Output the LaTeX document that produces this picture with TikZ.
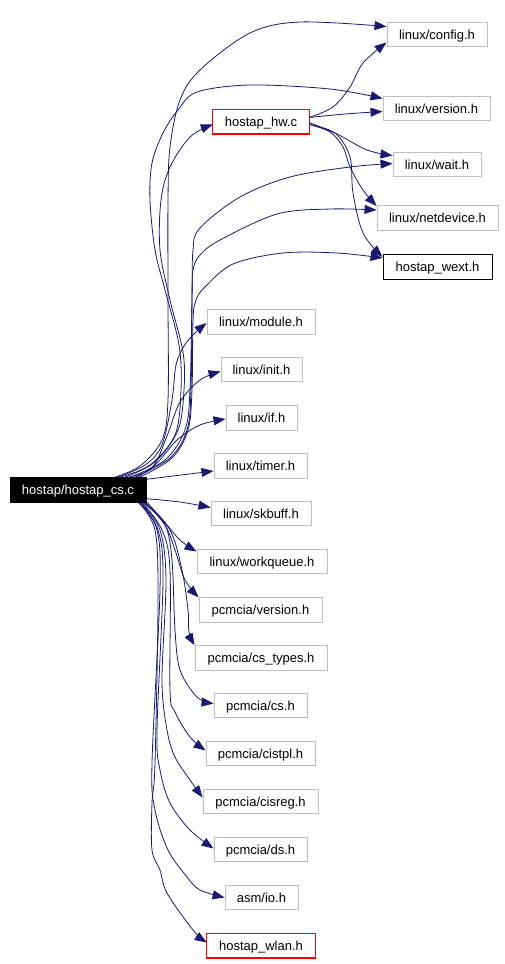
\documentclass[tikz,border=0pt]{standalone}
\usepackage{fontspec}
\setmainfont{Liberation Sans}
\usetikzlibrary{arrows.meta}
\definecolor{edgeblue}{RGB}{25,25,112}
\definecolor{boxgray}{RGB}{191,191,191}
\definecolor{borderred}{RGB}{255,0,0}
\tikzset{
  txt/.style={minimum height=24.5pt, inner sep=0pt, text height=9.3pt, text depth=0pt, font=\fontsize{13}{15}\selectfont},
  box/.style={txt, draw=boxgray, line width=0.9pt},
  redbox/.style={txt},
  redframe/.style={draw=borderred, line width=1.1pt},
  blackbox/.style={box, draw=black},
  rootbox/.style={box, draw=black, fill=black, text=white},
  e/.style={draw=edgeblue, line width=0.8pt, -{Triangle[length=12pt,width=9pt]}},
  sm/.style={smooth, tension=0.55},
}
\begin{document}
\begin{tikzpicture}[x=1pt,y=-1pt]
\useasboundingbox (0,0) rectangle (505,964);
% nodes
\node[rootbox, minimum width=136pt] (root) at (78,490) {hostap/hostap\_cs.c};
\node[box, minimum width=100pt] (cfg) at (437,34.5) {linux/config.h};
\node[box, minimum width=107pt] (ver) at (436.5,108.5) {linux/version.h};
\node[redbox, minimum width=96pt] (hw) at (261,121.5) {hostap\_hw.c};
\draw[redframe] (hw.north west) rectangle (hw.south east);
\node[box, minimum width=88pt] (wait) at (437,164.5) {linux/wait.h};
\node[box, minimum width=121pt] (netd) at (437.5,218) {linux/netdevice.h};
\node[blackbox, minimum width=109pt] (wext) at (437.5,267) {hostap\_wext.h};
\node[box, minimum width=108pt] (module) at (261,322) {linux/module.h};
\node[box, minimum width=81pt] (init) at (261.5,369.5) {linux/init.h};
\node[box, minimum width=71pt] (if) at (261.5,418) {linux/if.h};
\node[box, minimum width=93pt] (timer) at (260.5,466) {linux/timer.h};
\node[box, minimum width=100pt] (skb) at (261,513.5) {linux/skbuff.h};
\node[box, minimum width=130pt] (wq) at (262,561.5) {linux/workqueue.h};
\node[box, minimum width=123pt] (pver) at (260.5,610) {pcmcia/version.h};
\node[box, minimum width=132pt] (cst) at (261,658) {pcmcia/cs\_types.h};
\node[box, minimum width=93pt] (cs) at (260.5,705.5) {pcmcia/cs.h};
\node[box, minimum width=109pt] (cistpl) at (260.5,753.5) {pcmcia/cistpl.h};
\node[box, minimum width=115pt] (cisreg) at (260.5,801.5) {pcmcia/cisreg.h};
\node[box, minimum width=93pt] (ds) at (260.5,849.5) {pcmcia/ds.h};
\node[box, minimum width=73pt] (io) at (261.5,897.5) {asm/io.h};
\node[redbox, minimum width=108pt] (wlan) at (261,945.5) {hostap\_wlan.h};
\draw[redframe] (wlan.north west) rectangle (wlan.south east);

% root -> upper targets
\draw[e] plot[sm] coordinates {([xshift=105pt]root.north west) (140,466) (162,440) (168,400) (168,300) (168,200) (170,147) (180,100) (200,70) (250,33) (300,22) ([yshift=8pt]cfg.west)};
\draw[e] plot[sm] coordinates {([xshift=110pt]root.north west) (150,465) (175,435) (181,390) (179,345) (165,290) (155,250) (150,200) (152,163) (163,133) (178,110) (197,92) (250,85) (330,89) ([yshift=10pt]ver.west)};
\draw[e] plot[sm] coordinates {([xshift=115pt]root.north west) (155,462) (178,430) (184,390) (183,352) (170,300) (160,250) (161,200) (170,167) (190,137) ([yshift=-3pt]hw.west)};
\draw[e] plot[sm] coordinates {([xshift=120pt]root.north west) (165,460) (185,430) (190,390) (192,300) (193,250) (200,228) (240,197) (290,177) (350,167) ([yshift=1pt]wait.west)};
\draw[e] plot[sm] coordinates {([xshift=125pt]root.north west) (170,458) (187,430) (191,390) (192,300) (193,270) (200,255) (220,240) (277,214) (330,209) ([yshift=8pt]netd.west)};
\draw[e] plot[sm] coordinates {([xshift=130pt]root.north west) (172,458) (188,430) (192,390) (193,320) (196,300) (205,287) (233,264) (283,253) (337,253) ([yshift=9pt]wext.west)};
\draw[e] plot[sm] coordinates {([xshift=108pt]root.north west) (145,465) (162,445) (172,400) (176,365) (184,346) (195,333) ([yshift=-1pt]module.west)};
\draw[e] plot[sm] coordinates {([xshift=118pt]root.north west) (152,468) (167,436) (180,402) (200,380) ([yshift=-2pt]init.west)};
\draw[e] plot[sm] coordinates {([xshift=128pt]root.north west) (157,463) (177,440) (200,425) ([yshift=-1pt]if.west)};
\draw[e] ([yshift=-2pt]root.north east) -- ([yshift=-5pt]timer.west);
\draw[e] plot[sm] coordinates {([yshift=4pt]root.south east) (180,502) ([yshift=6pt]skb.west)};

% root -> lower targets
\draw[e] plot[sm] coordinates {([yshift=1pt]root.south east) (163,520) (180,540) ([yshift=10pt]wq.west)};
\draw[e] plot[sm] coordinates {([xshift=-1pt]root.south east) (165,525) (175,550) (185,580) (pver.north west)};
\draw[e] plot[sm] coordinates {([xshift=-2pt]root.south east) (170,530) (182,570) (188,610) (189,632) (cst.north west)};
\draw[e] plot[sm] coordinates {([xshift=-3pt]root.south east) (165,525) (172,560) (175,630) (180,670) (197,697) ([yshift=2pt]cs.west)};
\draw[e] plot[sm] coordinates {([xshift=-4pt]root.south east) (162,530) (170,570) (170,690) (175,712) (190,737) ([yshift=3pt]cistpl.west)};
\draw[e] plot[sm] coordinates {([xshift=-5pt]root.south east) (160,530) (166,580) (162,680) (167,730) (175,757) (190,780) ([yshift=4pt]cisreg.west)};
\draw[e] plot[sm] coordinates {([xshift=-6pt]root.south east) (158,530) (163,580) (157,730) (160,770) (170,803) (190,830) ([yshift=1pt]ds.west)};
\draw[e] plot[sm] coordinates {([xshift=-7pt]root.south east) (157,530) (160,590) (152,763) (155,810) (168,850) (187,877) (200,890) (io.west)};
\draw[e] plot[sm] coordinates {([xshift=-8pt]root.south east) (155,530) (158,600) (155,763) (152,803) (152,850) (160,870) (167,893) (193,930) ([yshift=3pt]wlan.west)};

% hostap_hw.c -> targets
\draw[e] plot[sm] coordinates {([yshift=4pt]hw.east) (333,107) (350,87) (363,63) ([yshift=-8pt]cfg.west)};
\draw[e] plot[sm] coordinates {([yshift=4pt]hw.east) (345,114) ([yshift=-3pt]ver.west)};
\draw[e] plot[sm] coordinates {([yshift=-1pt]hw.east) (337,134) (367,150) ([yshift=9pt]wait.west)};
\draw[e] plot[sm] coordinates {([yshift=-3pt]hw.east) (330,132) (343,147) (350,167) (363,190) ([yshift=12pt]netd.west)};
\draw[e] plot[sm] coordinates {([yshift=-3pt]hw.east) (335,133) (350,157) (353,193) (363,233) ([yshift=10pt]wext.west)};
\end{tikzpicture}
\end{document}
